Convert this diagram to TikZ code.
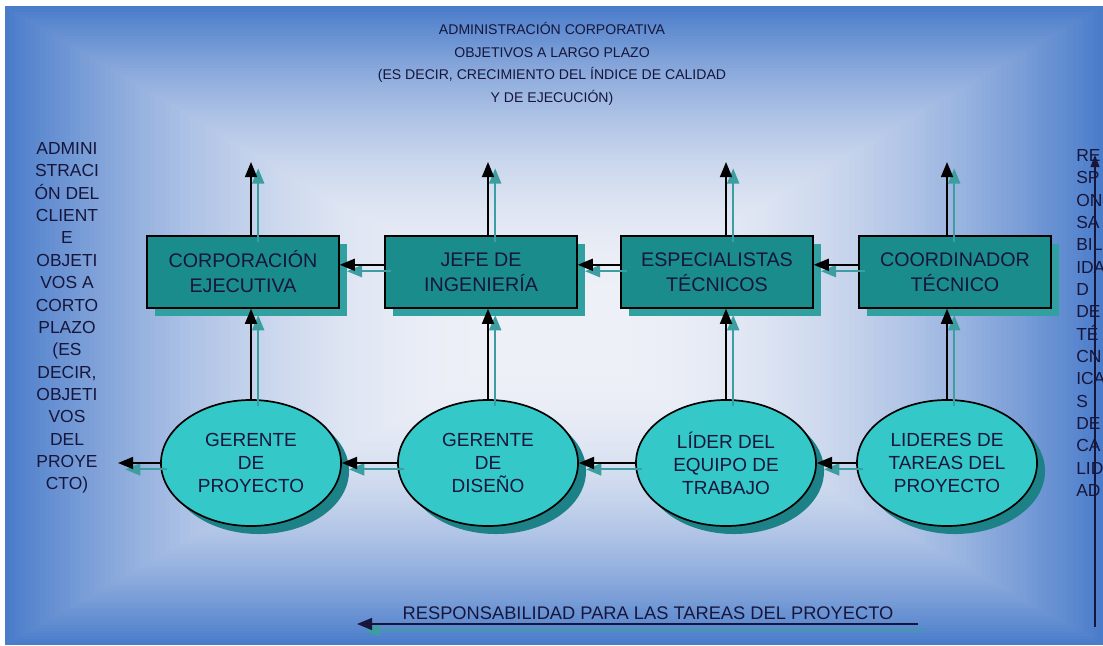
\documentclass[tikz,border=0pt]{standalone}
\usepackage{fontspec}
\setmainfont{Liberation Sans}
\usepackage{tikz}
\usetikzlibrary{arrows.meta,shapes,shadows}
\definecolor{bg-blue}{RGB}{74,124,202}
\definecolor{bg-white}{RGB}{238,240,247}
\definecolor{box-teal}{RGB}{26,140,140}
\definecolor{box-shade}{RGB}{48,160,160}
\definecolor{oval-cyan}{RGB}{52,200,200}
\definecolor{oval-shade}{RGB}{28,130,135}
\definecolor{line-shade}{RGB}{60,158,160}
\definecolor{ink}{RGB}{22,22,60}
\tikzstyle{office}=[rectangle, draw=black, line width=1pt, fill=box-teal, text=ink, minimum width=4.8cm, minimum height=1.8cm, align=center, font=\fontsize{14}{17.8}\selectfont, drop shadow={fill=box-shade, opacity=1, shadow xshift=0.2cm, shadow yshift=-0.2cm}]
\tikzstyle{role}=[ellipse, draw=black, line width=1.2pt, fill=oval-cyan, text=ink, minimum width=4.5cm, minimum height=3.15cm, inner sep=0pt, align=center, font=\fontsize{13.5}{16.4}\selectfont, drop shadow={fill=oval-shade, opacity=1, shadow xshift=0.2cm, shadow yshift=-0.2cm}]
\tikzstyle{sidetext}=[inner sep=0pt, text=ink, font=\fontsize{12.4}{15.9}\selectfont]
\tikzstyle{link}=[draw=black, line width=1.4pt, -{Triangle[length=0.38cm, width=0.3cm]}]
\tikzstyle{link-shade}=[draw=line-shade, line width=1.4pt, -{Triangle[length=0.38cm, width=0.3cm]}, transform canvas={xshift=0.18cm, yshift=-0.16cm}]

\begin{document}
\begin{tikzpicture}[x=0.025cm, y=-0.025cm]
	\useasboundingbox (0,0) rectangle (1103,645);
	\fill[white] (0,0) rectangle (1103,645);
	\foreach \k in {0,...,99}{
		\pgfmathsetmacro{\f}{100*(1-\k/99)^2}
		\fill[bg-blue!\f!bg-white] (5+5*\k,6+2.97*\k) rectangle (1103-5.08*\k,645-2.88*\k);
	}
	\node[sidetext, align=center, font=\fontsize{10}{16.1}\selectfont] (title) at (552,64) {ADMINISTRACIÓN CORPORATIVA\\OBJETIVOS A LARGO PLAZO\\(ES DECIR, CRECIMIENTO DEL ÍNDICE DE CALIDAD\\Y DE EJECUCIÓN)};
	\node[sidetext, align=center] (client) at (67,318) {ADMINI\\STRACI\\ÓN DEL\\CLIENT\\E\\OBJETI\\VOS A\\CORTO\\PLAZO\\(ES\\DECIR,\\OBJETI\\VOS\\DEL\\PROYE\\CTO)};
	\node[sidetext, align=left, anchor=north west] (quality) at (1076,149) {RE\\SP\\ON\\SA\\BIL\\IDA\\D\\DE\\TÉ\\CN\\ICA\\S\\DE\\CA\\LID\\AD};

	\node[office] (b1) at (243,272) {CORPORACIÓN\\EJECUTIVA};
	\node[office] (b2) at (481,272) {JEFE DE\\INGENIERÍA};
	\node[office] (b3) at (717,272) {ESPECIALISTAS\\TÉCNICOS};
	\node[office] (b4) at (955,272) {COORDINADOR\\TÉCNICO};

	\node[role] (e1) at (251,463) {GERENTE\\DE\\PROYECTO};
	\node[role] (e2) at (488,463) {GERENTE\\DE\\DISEÑO};
	\node[role] (e3) at (726,463) {LÍDER DEL\\EQUIPO DE\\TRABAJO};
	\node[role] (e4) at (947,463) {LIDERES DE\\TAREAS DEL\\PROYECTO};

	\coordinate (t1) at (251,162);
	\coordinate (t2) at (488,162);
	\coordinate (t3) at (726,162);
	\coordinate (t4) at (947,162);
	\coordinate (out) at (118,463);

	\foreach \i in {1,...,4}{
		\draw[link-shade] (t\i |- b\i.north) -- (t\i);
		\draw[link] (t\i |- b\i.north) -- (t\i);
		\draw[link-shade] (e\i.north) -- (e\i.north |- b\i.south);
		\draw[link] (e\i.north) -- (e\i.north |- b\i.south);
	}
	\foreach \i/\j in {2/1,3/2,4/3}{
		\draw[link-shade] ([yshift=0.18cm]b\i.west) -- ([yshift=0.18cm]b\j.east);
		\draw[link] ([yshift=0.18cm]b\i.west) -- ([yshift=0.18cm]b\j.east);
		\draw[link-shade] (e\i.west) -- (e\j.east);
		\draw[link] (e\i.west) -- (e\j.east);
	}
	\draw[link-shade] (e1.west) -- (out);
	\draw[link] (e1.west) -- (out);

	\coordinate (rs) at (918,624);
	\coordinate (re) at (357,624);
	\node[sidetext, font=\fontsize{13}{16}\selectfont, anchor=south] (resp) at (648,620) {RESPONSABILIDAD PARA LAS TAREAS DEL PROYECTO};
	\draw[link-shade] (rs) -- (re);
	\draw[link, draw=ink] (rs) -- (re);

	\coordinate (qs) at (1095,627);
	\coordinate (qe) at (1095,155);
	\draw[draw=ink, line width=1.1pt, -{Triangle[length=0.3cm, width=0.22cm]}] (qs) -- (qe);
\end{tikzpicture}
\end{document}
